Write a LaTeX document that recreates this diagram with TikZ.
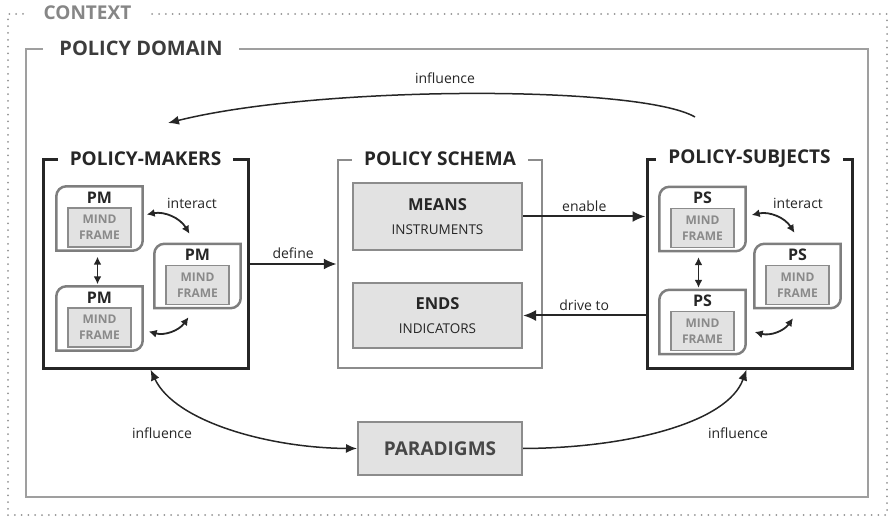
\documentclass[tikz,border=0pt]{standalone}
\usepackage{fontspec}
\setmainfont{Open Sans}
\usepackage{tikz}
\usetikzlibrary{arrows.meta}

\definecolor{boxgray}{HTML}{E2E2E2}
\definecolor{edgegray}{HTML}{8C8C8C}
\definecolor{textgray}{HTML}{8A8A8A}
\definecolor{ink}{HTML}{262626}

\tikzset{
	ctxframe/.style={draw=gray!85, line width=2pt, dash pattern=on 0pt off 6.8pt, line cap=round, minimum width=879pt, minimum height=501pt},
	domainframe/.style={draw=gray!75, line width=2pt, minimum width=842pt, minimum height=448pt},
	frametitle/.style={fill=white, inner xsep=16pt, inner ysep=2pt, font=\fontsize{20}{22}\selectfont\bfseries},
	grouptitle/.style={fill=white, inner xsep=12pt, inner ysep=2pt, text=ink, font=\fontsize{19}{21}\selectfont\bfseries},
	actorgroup/.style={draw=ink, line width=3pt, minimum width=205pt, minimum height=208pt},
	schemagroup/.style={draw=edgegray, line width=2.5pt, minimum width=204pt, minimum height=208pt},
	greybox/.style={draw=edgegray, fill=boxgray, line width=2pt, align=center, inner sep=0pt},
	actorbox/.style={minimum width=86pt, minimum height=64pt, inner sep=0pt},
	leaf/.style={draw=edgegray!90!black, line width=2.5pt, fill=white},
	actorname/.style={text=ink, inner sep=0pt, font=\fontsize{16}{18}\selectfont\bfseries},
	mindframe/.style={greybox, line width=1.5pt, minimum width=63pt, minimum height=39pt, text=textgray, font=\fontsize{12}{16}\selectfont\bfseries},
	flow/.style={draw=ink, line width=2pt, -{Latex[length=13pt,width=11pt]}},
	infl/.style={draw=ink, line width=1.5pt},
	link/.style={draw=ink, line width=1.8pt, {Latex[length=8pt,width=8pt]}-{Latex[length=8pt,width=8pt]}},
	lbl/.style={text=ink, inner sep=1pt, font=\fontsize{14}{16}\selectfont},
}

% one actor card: leaf shaped outline, name on top, mind frame below
\newcommand{\actorcard}[4]{%
	\node[actorbox] (#1) at (#2,#3) {};
	\draw[leaf] (#1.south west) -- ([yshift=-10pt]#1.north west)
		arc[start angle=180, end angle=90, radius=10pt] -- (#1.north east)
		-- ([yshift=10pt]#1.south east)
		arc[start angle=0, end angle=-90, radius=10pt] -- cycle;
	\node[actorname] (#1-name) at ([yshift=-11pt]#1.north) {#4};
	\node[mindframe] (#1-mind) at ([yshift=-9pt]#1.center) {MIND\\FRAME};
}

\begin{document}
\begin{tikzpicture}[x=1pt,y=1pt]
	\useasboundingbox (0,0) rectangle (888,517);

	% outer frames
	\node[ctxframe] (context) at (447.5,252.5) {};
	\node[frametitle, text=gray!95, font=\fontsize{19}{21}\selectfont\bfseries] (context-title) at ([xshift=80.5pt]context.north west) {CONTEXT};
	\node[domainframe] (domain) at (447,244) {};
	\node[frametitle, text=ink!90] (domain-title) at ([xshift=116pt]domain.north west) {POLICY DOMAIN};

	% the three groups
	\node[actorgroup] (makers) at (145.5,253) {};
	\node[grouptitle] (makers-title) at (makers.north) {POLICY-MAKERS};
	\node[schemagroup] (schema) at (440,253) {};
	\node[grouptitle] (schema-title) at (schema.north) {POLICY SCHEMA};
	\node[actorgroup] (subjects) at (749.5,253) {};
	\node[grouptitle] (subjects-title) at (subjects.north) {POLICY-SUBJECTS};

	% schema contents
	\node[greybox, minimum width=169pt, minimum height=67pt, text=ink, font=\fontsize{13.5}{24}\selectfont] (means) at (437.5,300.5)
		{{\fontsize{16.5}{24}\selectfont\bfseries MEANS}\\INSTRUMENTS};
	\node[greybox, minimum width=169pt, minimum height=65pt, text=ink, font=\fontsize{13.5}{24}\selectfont] (ends) at (437.5,201.5)
		{{\fontsize{16.5}{24}\selectfont\bfseries ENDS}\\INDICATORS};

	\node[greybox, minimum width=164pt, minimum height=53pt, text=ink!85, font=\fontsize{19}{21}\selectfont\bfseries] (paradigms) at (440,68.5) {PARADIGMS};

	% policy-makers
	\actorcard{pm1}{99.5}{298.5}{PM}
	\actorcard{pm2}{99.5}{198.5}{PM}
	\actorcard{pm3}{197.5}{241}{PM}
	\draw[link] ([xshift=4pt,yshift=4pt]pm1.east) to[bend left=35] ([xshift=-8pt,yshift=10pt]pm3.north);
	\draw[link] ([xshift=-2pt,yshift=-6pt]pm1.south) -- ([xshift=-2pt,yshift=2pt]pm2.north);
	\draw[link] ([xshift=6pt,yshift=-13pt]pm2.east) to[bend right=35] ([xshift=-9pt,yshift=-9pt]pm3.south);
	\node[lbl] (pm-interact) at (192,314) {interact};

	% policy-subjects
	\actorcard{ps1}{702.5}{298}{PS}
	\actorcard{ps2}{702.5}{195}{PS}
	\actorcard{ps3}{797.5}{241}{PS}
	\draw[link] ([xshift=6pt,yshift=4pt]ps1.east) to[bend left=35] ([xshift=-3pt,yshift=11pt]ps3.north);
	\draw[link] ([xshift=-4pt,yshift=-6pt]ps1.south) -- ([xshift=-4pt,yshift=2pt]ps2.north);
	\draw[link] ([xshift=9pt,yshift=-10pt]ps2.east) to[bend right=35] ([xshift=-4.5pt,yshift=-10pt]ps3.south);
	\node[lbl] (ps-interact) at (798,314) {interact};

	% flows between groups
	\draw[flow] (makers.east) -- (schema.west) node[lbl, midway, above=3pt] {define};
	\draw[flow] (means.east) -- (means.east -| subjects.west) node[lbl, midway, above=3pt] {enable};
	\draw[flow] (ends.east -| subjects.west) -- (ends.east) node[lbl, midway, above=3pt] {drive to};

	% influence arcs
	\coordinate (infl-from) at (695,400);
	\coordinate (infl-to) at (168,394);
	\draw[infl, -{Latex[length=11pt,width=9pt]}] (infl-from) .. controls (640,432) and (320,432) .. (infl-to);
	\node[lbl] (infl-top) at (445,439) {influence};

	\draw[infl, {Latex[length=11pt,width=9pt]}-{Latex[length=11pt,width=9pt]}] ([xshift=5pt]makers.south) .. controls (175,95) and (270,69) .. (paradigms.west);
	\draw[infl, -{Latex[length=11pt,width=9pt]}] (paradigms.east) .. controls (630,69) and (728,95) .. ([xshift=-3pt]subjects.south);
	\node[lbl] (infl-left) at (162,84) {influence};
	\node[lbl] (infl-right) at (738,84) {influence};
\end{tikzpicture}
\end{document}
